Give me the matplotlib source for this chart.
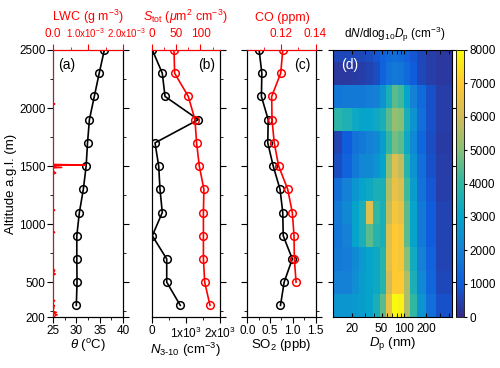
import matplotlib
matplotlib.use("Agg")
import matplotlib.pyplot as plt
import matplotlib.transforms as mtransforms
import numpy as np
from matplotlib.colors import LinearSegmentedColormap
from matplotlib.ticker import MultipleLocator, FixedLocator, NullFormatter

plt.rcParams['font.family'] = ['Liberation Sans', 'DejaVu Sans']
plt.rcParams['mathtext.fontset'] = 'custom'
plt.rcParams['mathtext.rm'] = 'Liberation Sans'
plt.rcParams['mathtext.it'] = 'Liberation Sans:italic'
plt.rcParams['font.size'] = 8.5

# altitudes of the profile points (m a.g.l.)
alt = [2500, 2300, 2100, 1900, 1700, 1500, 1300, 1100, 900, 700, 500, 300]

# (a) potential temperature
theta = [36.0, 34.9, 33.85, 32.8, 32.4, 32.1, 31.5, 30.65, 30.1, 30.1, 30.15, 30.0]
# LWC trace (g m-3)
lwc_alt = [2500, 2100, 2040, 2035, 2030, 1900, 1600, 1515, 1510, 1505, 1495, 1488, 1484,
           1460, 1440, 1430, 1300, 1130, 1120, 1110, 940, 930, 920, 620, 600, 580,
           570, 560, 350, 340, 330, 305, 300, 250, 240, 230, 220, 210, 200]
lwc = [0, 0, 0, 5e-5, 0, 0, 0, 0, 9.2e-4, 0, 0, 2.5e-4, 0,
       0, 8e-5, 0, 0, 0, 5e-5, 0, 0, 5e-5, 0, 0, 5e-5, 0,
       7e-5, 0, 0, 5e-5, 0, 0, 4e-5, 0, 1e-4, 0, 1.2e-4, 6e-5, 0]

# (b) N3-10 and S_tot
n310 = [20, 310, 390, 1365, 97, 205, 243, 310, 18, 440, 440, 837]
stot = [45.7, 47, 75, 88.7, 92, 97.6, 107, 106, 106, 106, 108.6, 119.5]

# (c) SO2 and CO
so2 = [0.26, 0.32, 0.31, 0.46, 0.45, 0.57, 0.72, 0.78, 0.79, 0.99, 0.81, 0.73]
co_alt = [2500, 2300, 2100, 1900, 1700, 1500, 1300, 1100, 900, 700, 500]
co = [0.1208, 0.1196, 0.1143, 0.1145, 0.1158, 0.1184, 0.1237, 0.1264, 0.1274, 0.1276, 0.1286]

# (d) size distribution, altitude bins (m) and Dp bin edges (nm)
alt_edges = [200, 400, 600, 800, 1000, 1200, 1400, 1600, 1800, 2000, 2200, 2400, 2500]
dp_edges = [11.3, 15, 20, 25, 31, 38, 47, 58, 70, 84, 100, 120, 150, 200, 270, 435]
dndlog = [
    [2600, 2600, 2700, 2800, 3000, 3500, 4500, 6500, 8000, 7800, 5500, 4000, 2500, 1500, 800],
    [2000, 2000, 2400, 2800, 3000, 3200, 3800, 6000, 7000, 7000, 5500, 3500, 2200, 1300, 600],
    [1800, 1900, 2300, 2700, 3000, 3200, 3800, 6300, 7000, 6800, 5000, 3300, 2000, 1200, 500],
    [1700, 2000, 3000, 3500, 4500, 3800, 3500, 6300, 7000, 6800, 4500, 3000, 1800, 1000, 500],
    [1800, 2200, 3000, 3500, 6300, 4000, 3500, 5800, 6800, 6500, 4500, 3000, 1800, 1000, 500],
    [1500, 2000, 2600, 3000, 3200, 3500, 3500, 5500, 6500, 6200, 4200, 2800, 1600, 900, 400],
    [700, 1200, 1800, 2200, 2200, 2500, 3000, 5000, 6300, 5800, 3800, 2500, 1500, 800, 400],
    [500, 1000, 1600, 1800, 2000, 2200, 2800, 4000, 4800, 4500, 3200, 2200, 1300, 700, 350],
    [3900, 3600, 3200, 3000, 3000, 3200, 3500, 4500, 5200, 5000, 3500, 2500, 1500, 800, 400],
    [1700, 1800, 1800, 1800, 1900, 2000, 2500, 3500, 4500, 4200, 3000, 2000, 1400, 800, 400],
    [300, 300, 350, 400, 500, 700, 1200, 1600, 1800, 1700, 1400, 1000, 600, 400, 300],
    [600, 600, 600, 600, 700, 900, 1200, 1400, 1500, 1400, 1200, 900, 600, 400, 300],
]

# parula-like colormap
parula = LinearSegmentedColormap.from_list("parula", [
    "#352A87", "#0F5CDD", "#1481D6", "#06A4CA", "#2EB7A4",
    "#87BF77", "#D1BB59", "#FEC832", "#F9FB0E"])

RED = "#ff0000"
W, H = 500, 368
fig = plt.figure(figsize=(5.0, 3.68), dpi=100)

def box(x0, x1, y0=50, y1=317):
    return [x0 / W, 1 - y1 / H, (x1 - x0) / W, (y1 - y0) / H]

def style_profile(ax, left_ticks=True):
    ax.set_ylim(200, 2500)
    ax.yaxis.set_major_locator(FixedLocator([200, 500, 1000, 1500, 2000, 2500]))
    ax.yaxis.set_minor_locator(FixedLocator([250, 750, 1250, 1750, 2250]))
    ax.tick_params(axis='y', which='both', direction='out', left=left_ticks, right=True,
                   labelleft=False, labelright=False, pad=1.5)
    ax.tick_params(axis='y', which='major', length=4)
    ax.tick_params(axis='y', which='minor', length=2.5)
    ax.tick_params(axis='x', which='major', length=4, direction='out', pad=2)
    ax.tick_params(axis='x', which='minor', length=2.5, direction='out')

def style_top(tw):
    tw.spines['top'].set_color(RED)
    tw.tick_params(axis='x', which='both', colors=RED, direction='out', pad=3.5)
    tw.tick_params(axis='x', which='major', length=4)
    tw.tick_params(axis='x', which='minor', length=2.5)

def top_title(xc, s):
    # top axis titles share one baseline, as in the original
    fig.text(xc / W, 1 - 21 / H, s, color=RED, ha='center', va='baseline', fontsize=9)

mk = dict(marker='o', mfc='none', ms=5.5, mew=1.1, lw=1.2)

# ---- (a)
axa = fig.add_axes(box(53, 123))
style_profile(axa)
axa.tick_params(axis='y', labelleft=True)
axa.plot(theta, alt, color='k', **mk)
axa.set_xlim(25, 40)
axa.xaxis.set_major_locator(MultipleLocator(5))
axa.xaxis.set_minor_locator(MultipleLocator(2.5))
axa.set_xlabel(r'$\theta$ ($^{\rm o}$C)', labelpad=0, fontsize=9.5)
axa.set_ylabel('Altitude a.g.l. (m)', fontsize=9.5, labelpad=1)
twa = axa.twiny()
twa.plot(lwc, lwc_alt, color=RED, lw=1.0)
twa.set_xlim(0, 2e-3)
twa.xaxis.set_major_locator(FixedLocator([0, 1e-3, 2e-3]))
twa.xaxis.set_minor_locator(FixedLocator([5e-4, 1.5e-3]))
twa.set_xticklabels(['0.0', r'1.0x10$^{-3}$', r'2.0x10$^{-3}$'])
style_top(twa)
# the two exponent labels sit edge to edge in the original
for lab, dx in zip(twa.get_xticklabels()[1:], [-1.5, 2.5]):
    lab.set_fontsize(7.0)
    lab.set_transform(lab.get_transform() +
                      mtransforms.ScaledTranslation(dx / 72, 0, fig.dpi_scale_trans))
twa.spines['left'].set_color(RED)
top_title(88, r'LWC (g m$^{-3}$)')
axa.text(0.08, 0.97, '(a)', transform=axa.transAxes, ha='left', va='top', fontsize=10)

# ---- (b)
axb = fig.add_axes(box(151.7, 220))
style_profile(axb, left_ticks=False)
axb.plot(n310, alt, color='k', **mk)
axb.set_xlim(0, 2000)
axb.xaxis.set_major_locator(FixedLocator([0, 1000, 2000]))
axb.xaxis.set_minor_locator(FixedLocator([500, 1500]))
axb.set_xticklabels(['0', r'1x10$^3$', r'2x10$^3$'])
axb.set_xlabel(r'$N_{\rm 3\text{-}10}$ (cm$^{-3}$)', labelpad=0, fontsize=9.5)
twb = axb.twiny()
twb.plot(stot, alt, color=RED, **mk)
twb.set_xlim(0, 140)
twb.xaxis.set_major_locator(FixedLocator([0, 50, 100]))
twb.xaxis.set_minor_locator(FixedLocator([25, 75, 125]))
style_top(twb)
top_title(185, r'$S_{\rm tot}$ ($\mu$m$^2$ cm$^{-3}$)')
axb.text(0.93, 0.97, '(b)', transform=axb.transAxes, ha='right', va='top', fontsize=10)

# ---- (c)
axc = fig.add_axes(box(247.3, 315.5))
style_profile(axc)
axc.plot(so2, alt, color='k', **mk)
axc.set_xlim(0, 1.5)
axc.xaxis.set_major_locator(FixedLocator([0, 0.5, 1.0, 1.5]))
axc.xaxis.set_minor_locator(FixedLocator([0.25, 0.75, 1.25]))
axc.set_xticklabels(['0.0', '0.5', '1.0', '1.5'])
axc.set_xlabel(r'SO$_2$ (ppb)', labelpad=0, fontsize=9.5)
twc = axc.twiny()
twc.plot(co, co_alt, color=RED, **mk)
twc.set_xlim(0.10, 0.14)
twc.xaxis.set_major_locator(FixedLocator([0.12, 0.14]))
twc.xaxis.set_minor_locator(FixedLocator([0.11, 0.13]))
twc.set_xticklabels(['0.12', '0.14'])
style_top(twc)
top_title(282, 'CO (ppm)')
axc.text(0.93, 0.97, '(c)', transform=axc.transAxes, ha='right', va='top', fontsize=10)

# ---- (d)
axd = fig.add_axes(box(333.3, 451.7))
mesh = axd.pcolormesh(dp_edges, alt_edges, np.array(dndlog), cmap=parula,
                      vmin=0, vmax=8000, shading='flat')
axd.set_xscale('log')
axd.set_xlim(11.3, 435)
axd.set_ylim(200, 2500)
axd.xaxis.set_major_locator(FixedLocator([20, 50, 100, 200]))
axd.xaxis.set_minor_locator(FixedLocator([30, 40, 60, 70, 80, 90, 300, 400]))
axd.xaxis.set_minor_formatter(NullFormatter())
axd.set_xticklabels(['20', '50', '100', '200'])
axd.tick_params(axis='x', which='both', direction='in', top=True, length=3, pad=4)
axd.yaxis.set_major_locator(FixedLocator([500, 1000, 1500, 2000, 2500]))
axd.tick_params(axis='y', which='both', direction='out', left=True, right=True,
                labelleft=False, length=3.5)
axd.set_xlabel(r'$D_{\rm p}$ (nm)', labelpad=0, fontsize=9.5)
axd.text(0.07, 0.97, '(d)', transform=axd.transAxes, ha='left', va='top',
         fontsize=10, color='white')

cax = fig.add_axes(box(455.5, 463.5))
cb = fig.colorbar(mesh, cax=cax, ticks=list(range(0, 8001, 1000)))
cb.outline.set_linewidth(0.6)
cax.tick_params(labelsize=8.5, length=2, pad=2)
fig.text(395 / W, 1 - 38 / H, r'd$N$/dlog$_{10}$$D_{\rm p}$ (cm$^{-3}$)',
         ha='center', va='baseline', fontsize=8.5)

fig.savefig("out.png", dpi=100)
